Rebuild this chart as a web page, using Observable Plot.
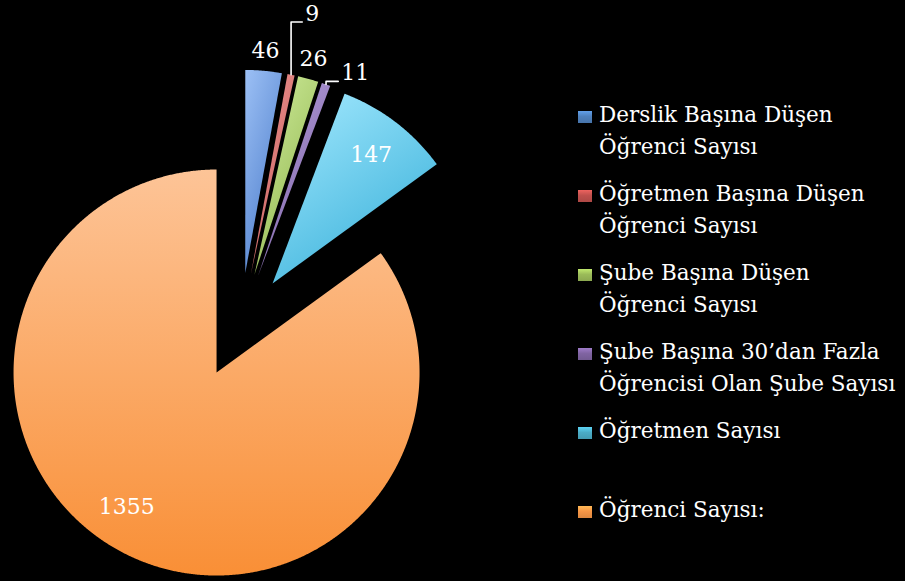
<!DOCTYPE html>
<html>
<head>
<meta charset="utf-8">
<script src="https://cdn.jsdelivr.net/npm/d3@7"></script>
<script src="https://cdn.jsdelivr.net/npm/@observablehq/plot@0.6"></script>
<style>
  html, body { margin: 0; padding: 0; background: #000; }
  #wrap { position: relative; width: 905px; height: 581px; background: #000; overflow: hidden; }
  #legend { position: absolute; left: 578px; top: 99px; font-family: "DejaVu Serif", serif; font-size: 21.5px; line-height: 32px; color: #fff; }
  .item { display: flex; align-items: flex-start; margin-bottom: 15px; }
  .sw { width: 14px; height: 12px; margin-top: 12px; margin-right: 7px; flex: none; box-sizing: border-box; }
  .lbl { white-space: pre; }
</style>
</head>
<body>
<div id="wrap"><div id="chart"></div><div id="legend"></div></div>
<script>
// ---- data ----
const categories = [
  "Derslik Başına Düşen\nÖğrenci Sayısı",
  "Öğretmen Başına Düşen\nÖğrenci Sayısı",
  "Şube Başına Düşen\nÖğrenci Sayısı",
  "Şube Başına 30’dan Fazla\nÖğrencisi Olan Şube Sayısı",
  "Öğretmen Sayısı\n",
  "Öğrenci Sayısı:"
];
const values = [46, 9, 26, 11, 147, 1355];
const baseColors = ["#4f81bd", "#c0504d", "#9bbb59", "#8064a2", "#4bacc6", "#f79646"];
const lightColors = ["#9cc0f5", "#f09a98", "#d2ef9f", "#bba6e0", "#a6eaff", "#fdc497"];
const darkColors  = ["#4f7fcc", "#c85f5c", "#92b650", "#7d62a6", "#3fb4dc", "#f98f36"];

// ---- layout ----
const W = 905, H = 581, R = 203;          // pixels per unit radius
const CX = 240, CY = 325;                 // pie centre in pixels
const explode = 0.26;                     // explosion, in radii
const outsideR = 1.36, insideR = 1.06;
const leaderSlices = {1: {rise: 0.26, run: 0.055}, 3: {rise: 0.015, run: 0.06}};
const labelNudge = {5: [-16, -10]};

// ---- geometry from data ----
const pie = d3.pie().sort(null).value(d => d)(values);
const total = d3.sum(values);
const wedges = pie.map((p, i) => {
  const mid = (p.startAngle + p.endAngle) / 2;
  const ox = explode * Math.sin(mid), oy = explode * Math.cos(mid);
  const pts = [{x: ox, y: oy}];
  const n = Math.max(2, Math.ceil((p.endAngle - p.startAngle) / 0.005));
  for (let j = 0; j <= n; j++) {
    const a = p.startAngle + (p.endAngle - p.startAngle) * j / n;
    pts.push({x: ox + Math.sin(a), y: oy + Math.cos(a)});
  }
  return {i, mid, pts};
});

const labels = [];
const leaders = [];
pie.forEach((p, i) => {
  const mid = (p.startAngle + p.endAngle) / 2;
  const share = values[i] / total;
  if (leaderSlices[i]) {
    const tr = explode + 1.0;
    const tip = {x: tr * Math.sin(mid), y: tr * Math.cos(mid)};
    const L = leaderSlices[i];
    const elbow = {x: tip.x, y: tip.y + L.rise};
    const end = {x: tip.x + L.run, y: tip.y + L.rise};
    leaders.push([tip, elbow, end].map(d => ({...d, k: i})));
    labels.push({x: end.x, y: end.y, text: String(values[i]), anchor: "start", leader: true});
  } else {
    const r = share > 0.05 ? insideR : outsideR;
    const nd = labelNudge[i] || [0, 0];
    labels.push({x: r * Math.sin(mid), y: r * Math.cos(mid), text: String(values[i]), anchor: "middle", dx: nd[0], dy: nd[1]});
  }
});

const marks = wedges.map(w => Plot.line(w.pts, {
  x: "x", y: "y", fill: `url(#g${w.i})`, stroke: "none", curve: "linear-closed"
}));
leaders.forEach(l => marks.push(Plot.line(l, {x: "x", y: "y", stroke: "#fff", strokeWidth: 1.6})));
labels.filter(d => !d.leader).forEach(d => marks.push(Plot.text([d], {
  x: "x", y: "y", text: "text", fill: "#fff", fontSize: 22, textAnchor: "middle",
  dx: d.dx, dy: d.dy, fontFamily: "DejaVu Serif"
})));
labels.filter(d => d.leader).forEach(d => marks.push(Plot.text([d], {
  x: "x", y: "y", text: "text", fill: "#fff", fontSize: 22, textAnchor: "start",
  dx: 3, dy: -8, fontFamily: "DejaVu Serif"
})));

const svg = Plot.plot({
  width: W, height: H,
  margin: 0,
  x: {domain: [-CX / R, (W - CX) / R], axis: null},
  y: {domain: [-(H - CY) / R, CY / R], axis: null},
  style: {background: "#000", overflow: "visible"},
  marks
});

const defs = d3.select(svg).insert("defs", ":first-child");
values.forEach((v, i) => {
  const g = defs.append("linearGradient").attr("id", `g${i}`).attr("x1", 0).attr("y1", 0).attr("x2", i === 5 ? 0 : 0.6).attr("y2", 1);
  g.append("stop").attr("offset", "0%").attr("stop-color", lightColors[i]);
  g.append("stop").attr("offset", "100%").attr("stop-color", darkColors[i]);
});
document.getElementById("chart").appendChild(svg);

// ---- legend ----
const legend = d3.select("#legend");
categories.forEach((c, i) => {
  const item = legend.append("div").attr("class", "item");
  item.append("div").attr("class", "sw")
    .style("background", `linear-gradient(180deg, ${d3.color(baseColors[i]).brighter(0.6)} 0%, ${baseColors[i]} 45%, ${d3.color(baseColors[i]).darker(0.3)} 100%)`);
  item.append("div").attr("class", "lbl").text(c.endsWith("\n") ? c + " " : c);
});
</script>
</body>
</html>
